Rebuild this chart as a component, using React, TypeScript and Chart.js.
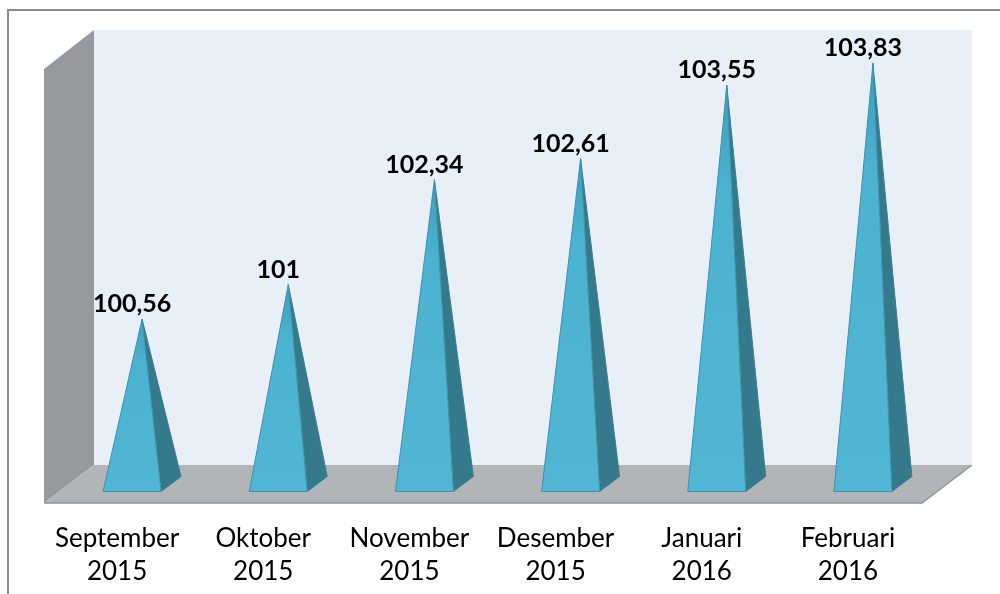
import React, { useEffect, useRef } from "react";
import { Chart, registerables } from "chart.js";

Chart.register(...registerables);

const months = ["September", "Oktober", "November", "Desember", "Januari", "Februari"];
const years = ["2015", "2015", "2015", "2015", "2016", "2016"];
const values = [100.56, 101, 102.34, 102.61, 103.55, 103.83];

const DEPTH_X = 25;
const DEPTH_Y = 19;

const polygon = (ctx: CanvasRenderingContext2D, pts: number[][], fill?: any, stroke?: string, lw = 1) => {
  ctx.beginPath();
  pts.forEach((p, i) => (i ? ctx.lineTo(p[0], p[1]) : ctx.moveTo(p[0], p[1])));
  ctx.closePath();
  if (fill) {
    ctx.fillStyle = fill;
    ctx.fill();
  }
  if (stroke) {
    ctx.strokeStyle = stroke;
    ctx.lineWidth = lw;
    ctx.stroke();
  }
};

const stagePlugin = {
  id: "stage",
  beforeDatasetsDraw(chart: any) {
    const { ctx, chartArea: a, width, height } = chart;
    ctx.save();
    ctx.strokeStyle = "#8c8c8c";
    ctx.lineWidth = 2;
    ctx.beginPath();
    ctx.moveTo(8, height);
    ctx.lineTo(8, 10);
    ctx.lineTo(width, 10);
    ctx.stroke();

    const xF0 = a.left - DEPTH_X;
    const xF1 = a.right - DEPTH_X + 1;
    const xB0 = a.left + DEPTH_X;
    const xB1 = a.right + DEPTH_X + 1;
    const yF = a.bottom + DEPTH_Y;
    const yB = a.bottom - DEPTH_Y;
    const yTopB = a.top - DEPTH_Y - 1;
    const yTopF = a.top + DEPTH_Y;

    polygon(ctx, [[xB0, yTopB], [xB1, yTopB], [xB1, yB], [xB0, yB]], "#e8eff6");
    polygon(ctx, [[xF0, yTopF], [xB0, yTopB], [xB0, yB], [xF0, yF]], "#96999d");
    polygon(ctx, [[xF0, yF], [xB0, yB], [xB1, yB], [xF1, yF]], "#b1b5b8");

    ctx.lineWidth = 1.5;
    ctx.strokeStyle = "#929598";
    ctx.beginPath();
    ctx.moveTo(xF0, yF);
    ctx.lineTo(xF1, yF);
    ctx.lineTo(xB1, yB);
    ctx.stroke();
    ctx.restore();
  },
  afterDatasetsDraw(chart: any) {
    const { ctx, chartArea: a } = chart;
    const meta = chart.getDatasetMeta(0);
    const halfW = 29;
    const shearX = 10;
    const shearY = 7.5;
    ctx.save();
    meta.data.forEach((el: any, i: number) => {
      const cx = el.x;
      const cy = a.bottom;
      const apex = [cx, el.y];
      const fl = [cx - shearX - halfW, cy + shearY];
      const fr = [cx - shearX + halfW, cy + shearY];
      const br = [cx + shearX + halfW, cy - shearY];
      const grad = ctx.createLinearGradient(0, el.y, 0, fl[1]);
      grad.addColorStop(0, "#3f9fbd");
      grad.addColorStop(0.25, "#4bb2cf");
      grad.addColorStop(1, "#50b6d4");
      polygon(ctx, [fr, br, apex], "#35798c", "#3a8296", 1);
      polygon(ctx, [fl, fr, apex], grad, "#3f93ad", 1);

      const text = String(values[i]).replace(".", ",");
      ctx.fillStyle = "#000000";
      ctx.font = "bold 25px Lato";
      ctx.textAlign = "center";
      ctx.textBaseline = "middle";
      ctx.fillText(text, cx - 10, el.y - 15);
    });
    ctx.restore();
  },
};

export default function App() {
  const ref = useRef<HTMLCanvasElement | null>(null);
  useEffect(() => {
    const chart = new Chart(ref.current as HTMLCanvasElement, {
      type: "bar",
      data: {
        labels: months.map((m, i) => [m, years[i]]),
        datasets: [{ data: values, backgroundColor: "rgba(0,0,0,0)", borderWidth: 0 }],
      },
      options: {
        responsive: false,
        animation: false,
        devicePixelRatio: 1,
        layout: { padding: { left: 69, right: 54, top: 50, bottom: 0 } },
        plugins: { legend: { display: false }, tooltip: { enabled: false }, title: { display: false } },
        scales: {
          y: { display: false, min: 98.45, max: 104 },
          x: {
            grid: { display: false, drawTicks: false },
            border: { display: false },
            afterFit(axis: any) {
              axis.height = 110;
              axis.paddingLeft = 0;
              axis.paddingRight = 0;
            },
            ticks: {
              color: "#000000",
              font: { family: "Lato", size: 26, lineHeight: 1.27 },
              padding: 38,
              labelOffset: -25,
              maxRotation: 0,
              autoSkip: false,
            },
          },
        },
      },
      plugins: [stagePlugin],
    } as any);
    return () => chart.destroy();
  }, []);
  return (
    <div style={{ position: "absolute", left: 0, top: 0, width: 1000, height: 594, background: "#fff" }}>
      <canvas ref={ref} width={1000} height={594} style={{ display: "block" }} />
    </div>
  );
}
